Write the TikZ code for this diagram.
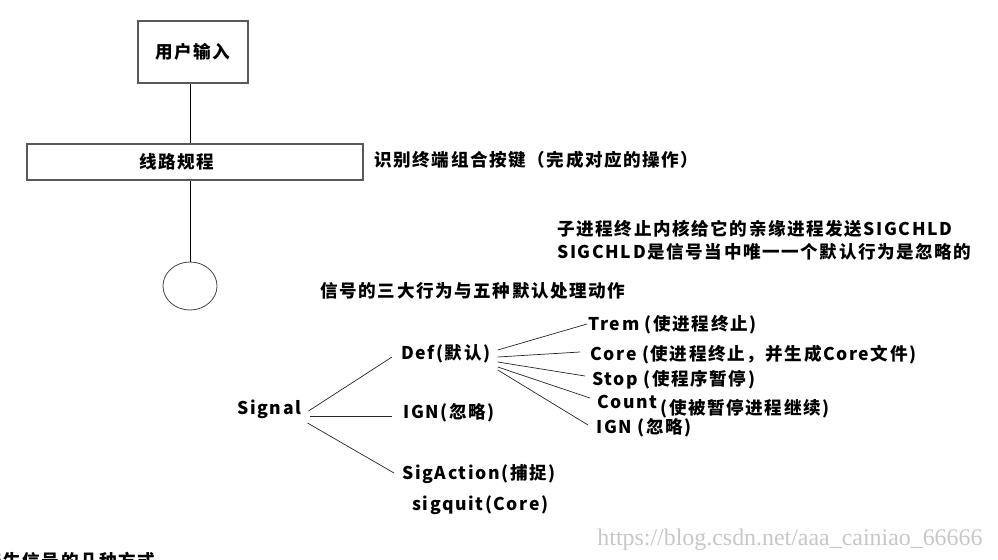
\documentclass[tikz,border=0pt]{standalone}
\usepackage{fontspec}
\setmainfont{Noto Sans CJK SC}[LetterSpace=9]
\newfontfamily\wmfont{Liberation Serif}
\usetikzlibrary{shapes.geometric,calc}

\begin{document}
\begin{tikzpicture}[
x=0.025cm, y=-0.025cm,
line width=0.6pt,
every node/.style={font=\bfseries\fontsize{12.5}{14}\selectfont, inner sep=0pt},
frame/.style={draw=black!65, line width=0.9pt},
twig/.style={draw=black!85, line width=0.5pt}
]
\useasboundingbox (0,0) rectangle (998,559);

\node[frame, minimum width=2.75cm, minimum height=1.55cm] (user) at (193,52) {用户输入};
\node[frame, minimum width=8.4cm, minimum height=0.9cm, label={[xshift=-0.45cm]center:线路规程}] (tty) at (195,162) {};
\node[draw=black!70, ellipse, minimum width=1.35cm, minimum height=1.2cm] (term) at (190,286) {};
\node[anchor=west] (keys) at (374,160) {识别终端组合按键（完成对应的操作）};

\draw (term.north |- user.south) -- (term.north |- tty.north);
\draw (term.north |- tty.south) -- (term.north);

\node[anchor=west] (chld1) at (557,229) {子进程终止内核给它的亲缘进程发送SIGCHLD};
\node[anchor=west] (chld2) at (557,252) {SIGCHLD是信号当中唯一一个默认行为是忽略的};
\node[anchor=west] (title) at (320,291) {信号的三大行为与五种默认处理动作};

% signal tree
\node[anchor=west] (sig) at (237,409) {Signal};
\node[anchor=west] (def) at (401,354) {Def(默认)};
\node[anchor=west] (ign) at (403,413) {IGN(忽略)};
\node[anchor=west] (act) at (402,474) {SigAction(捕捉)};
\node[anchor=west] (quit) at (412,505) {sigquit(Core)};

\draw[twig] ($(sig.east)+(7,2)$) -- ($(def.west)+(-9,3)$);
\draw[twig] ($(sig.east)+(8,7)$) -- ($(ign.west)+(-11,3)$);
\draw[twig] ($(sig.east)+(6,14)$) -- ($(act.west)+(-8,-1)$);

% five default actions
\node[anchor=west] (trem) at (588,325) {Trem (使进程终止)};
\node[anchor=west] (core) at (590,355) {Core (使进程终止，并生成Core文件)};
\node[anchor=west] (stop) at (592,380) {Stop (使程序暂停)};
\node[anchor=west] (cont) at (597,402) {Count};
\node[anchor=west] (contnote) at (660,409) {(使被暂停进程继续)};
\node[anchor=west] (ign2) at (596,428) {IGN (忽略)};

\foreach \leaf/\dy/\ox/\oy in {trem/-4/-1/-1, core/3/-10/-3, stop/8/-7/-4, cont/13/-7/-4, ign2/16/-8/-3}{
\draw[twig] ($(def.east)+(7,\dy)$) -- ($(\leaf.west)+(\ox,\oy)$);
}

\node[anchor=west] (ways) at (-16,561) {产生信号的几种方式};
\node[anchor=west, font=\wmfont\fontsize{17}{17}\selectfont, text=black!22] (mark) at (597,540) {https://blog.csdn.net/aaa\_cainiao\_66666};
\end{tikzpicture}
\end{document}
